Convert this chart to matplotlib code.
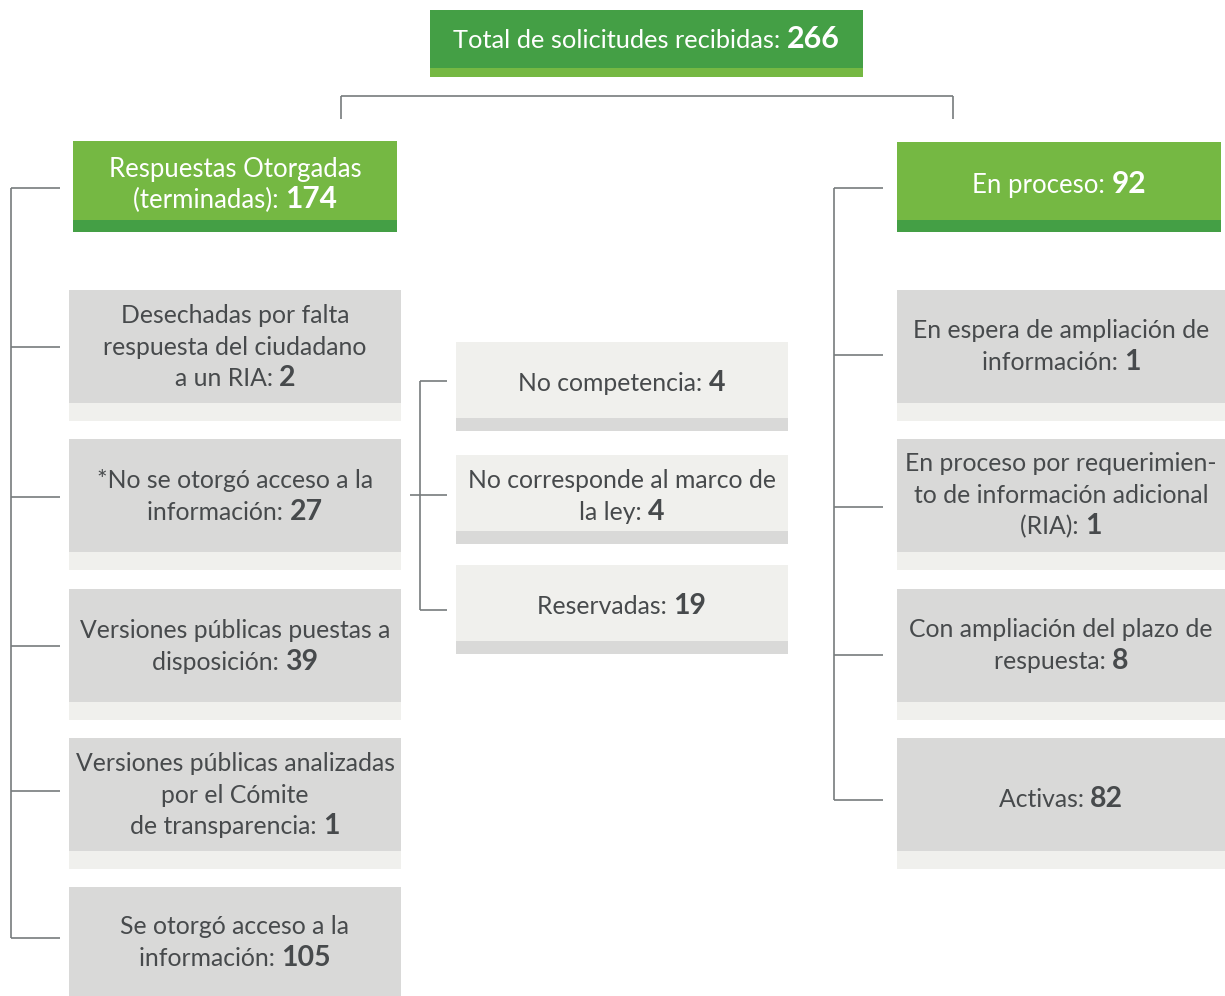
import matplotlib
matplotlib.use("Agg")
import matplotlib.pyplot as plt
from matplotlib.patches import Rectangle

plt.rcParams['font.family'] = ['Lato', 'DejaVu Sans']

# ---- data ----
total_label = "Total de solicitudes recibidas:"
total_value = 266

branch_labels = [["Respuestas Otorgadas", "(terminadas):"], ["En proceso:"]]
branch_values = [174, 92]

left_labels = [
    ["Desechadas por falta", "respuesta del ciudadano", "a un RIA:"],
    ["*No se otorgó acceso a la", "información:"],
    ["Versiones públicas puestas a", "disposición:"],
    ["Versiones públicas analizadas", "por el Cómite", "de transparencia:"],
    ["Se otorgó acceso a la", "información:"],
]
left_values = [2, 27, 39, 1, 105]

mid_labels = [
    ["No competencia:"],
    ["No corresponde al marco de", "la ley:"],
    ["Reservadas:"],
]
mid_values = [4, 4, 19]

right_labels = [
    ["En espera de ampliación de", "información:"],
    ["En proceso por requerimien-", "to de información adicional", "(RIA):"],
    ["Con ampliación del plazo de", "respuesta:"],
    ["Activas:"],
]
right_values = [1, 1, 8, 82]

# ---- colours ----
DARK_GREEN = "#449f45"
LIGHT_GREEN = "#75b843"
GRAY = "#d9d9d8"
PALE = "#f0f0ed"
TXT = "#474a4c"
LINE = "#777b7d"

W, H = 1225, 996
fig = plt.figure(figsize=(W / 100, H / 100), dpi=100)
ax = fig.add_axes([0, 0, 1, 1])
ax.set_xlim(0, W)
ax.set_ylim(H, 0)
ax.axis("off")
renderer = fig.canvas.get_renderer()


def box(x0, x1, y0, y1, ystrip, body, strip):
    ax.add_patch(Rectangle((x0, y0), x1 - x0, ystrip - y0, color=body, lw=0))
    ax.add_patch(Rectangle((x0, ystrip), x1 - x0, y1 - ystrip, color=strip, lw=0))


def label(cx, cy, lines, value, color, size=17.8, vsize=20.5, spacing=31.5):
    n = len(lines)
    px = size * 100 / 72
    for i, ln in enumerate(lines):
        yb = cy + (i - (n - 1) / 2) * spacing + 0.36 * px
        if i < n - 1:
            ax.text(cx, yb, ln, ha="center", va="baseline", fontsize=size, color=color)
        else:
            t1 = ax.text(0, yb, ln + " ", ha="left", va="baseline", fontsize=size, color=color)
            t2 = ax.text(0, yb, str(value), ha="left", va="baseline", fontsize=vsize,
                         color=color, fontweight="bold")
            w1 = t1.get_window_extent(renderer).width
            w2 = t2.get_window_extent(renderer).width
            x0 = cx - (w1 + w2) / 2
            t1.set_x(x0)
            t2.set_x(x0 + w1)


def line(xs, ys):
    ax.plot(xs, ys, color=LINE, lw=1.2, solid_capstyle="butt")


# top box
box(430, 863, 10, 77, 68, DARK_GREEN, LIGHT_GREEN)
label(646, 39, [total_label], total_value, "white", size=18.3, vsize=22)

# connector from top
line([341, 953], [96, 96])
line([341, 341], [96, 119])
line([953, 953], [96, 119])

# branch headers
box(73, 397, 141, 232, 220, LIGHT_GREEN, DARK_GREEN)
label(235, 183, branch_labels[0], branch_values[0], "white", size=18.5, vsize=21.5, spacing=31)
box(897, 1221, 142, 232, 220, LIGHT_GREEN, DARK_GREEN)
label(1059, 184, branch_labels[1], branch_values[1], "white", size=18.5, vsize=21.5)

# left column
left_tops = [290, 439, 589, 738, 887]
for top, lines, val in zip(left_tops, left_labels, left_values):
    box(69, 401, top, top + 131, top + 113, GRAY, PALE)
    label(235, top + (56 if top < 880 else 54), lines, val, TXT)

line([11, 11], [188, 938])
for y in [188, 347, 497, 646, 791, 938]:
    line([11, 60], [y, y])

# middle column
mid_tops = [342, 455, 565]
for top, lines, val in zip(mid_tops, mid_labels, mid_values):
    box(456, 788, top, top + 89, top + 76, PALE, GRAY)
    label(622, top + 40, lines, val, TXT)

line([420, 420], [381, 610])
for y in [381, 610]:
    line([420, 447], [y, y])
line([410, 447], [495, 495])

# right column
right_tops = [290, 439, 589, 738]
for i, (top, lines, val) in enumerate(zip(right_tops, right_labels, right_values)):
    box(897, 1225, top, top + 131, top + 113, GRAY, PALE)
    label(1061, top + (60 if i == 3 else 55), lines, val, TXT)

line([834, 834], [188, 800])
for y in [188, 355, 507, 655, 800]:
    line([834, 883], [y, y])

fig.savefig("out.png", dpi=100)
